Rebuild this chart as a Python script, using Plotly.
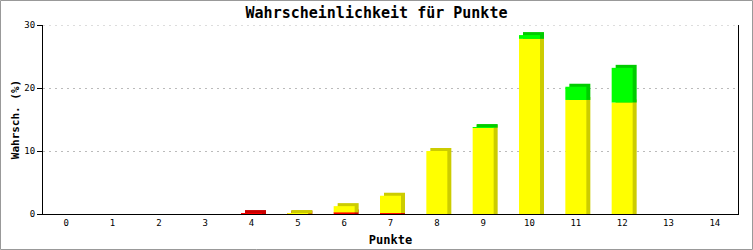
import plotly.graph_objects as go

categories = list(range(15))
red_vals = [0, 0, 0, 0, 0.15, 0.05, 0.25, 0.15, 0, 0, 0, 0, 0, 0, 0]
yellow_vals = [0, 0, 0, 0, 0, 0.1, 1.0, 2.75, 10.0, 13.7, 27.8, 18.1, 17.7, 0, 0]
green_vals = [0, 0, 0, 0, 0, 0, 0, 0, 0, 0.1, 0.6, 2.1, 5.5, 0, 0]
y_ticks = [0, 10, 20, 30]

W, H = 753, 250
L, R, T, B = 43, 15, 25, 36
PW, PH = W - L - R, H - T - B

BAR_W = 0.453
DEPTH_X = 4 / (PW / 15)      # category units
DEPTH_Y = 3 / (PH / 30)      # value units

series = [
    ("red", red_vals, "#ff0000", "#cc0000"),
    ("yellow", yellow_vals, "#ffff00", "#cccc00"),
    ("green", green_vals, "#00ff00", "#00cc00"),
]

fig = go.Figure()
bases = [0.0] * len(categories)
stack = []
for name, vals, front, side in series:
    stack.append((name, vals, list(bases), front, side))
    bases = [b + v for b, v in zip(bases, vals)]

# depth (3D) faces first
for name, vals, base, front, side in stack:
    fig.add_trace(go.Bar(
        x=categories, y=[(v + DEPTH_Y) if v > 0 else 0 for v in vals], base=base,
        width=BAR_W, offset=-BAR_W / 2 + DEPTH_X,
        marker=dict(color=side, line=dict(width=0)), showlegend=False, hoverinfo="skip"))
# front faces
for name, vals, base, front, side in stack:
    fig.add_trace(go.Bar(
        x=categories, y=vals, base=base, name=name,
        width=BAR_W, offset=-BAR_W / 2,
        marker=dict(color=front, line=dict(width=0)), showlegend=False))

FONT = "DejaVu Sans Mono"
GRID = "#bbbbbb"
fig.update_layout(
    width=W, height=H, barmode="overlay",
    margin=dict(l=L, r=R, t=T, b=B, autoexpand=False),
    paper_bgcolor="white", plot_bgcolor="white",
    title=dict(text="<b>Wahrscheinlichkeit für Punkte</b>", x=0.5, xanchor="center",
               y=1 - 13 / H, yanchor="middle",
               font=dict(family=FONT, size=15, color="black")),
    font=dict(family=FONT, color="black"),
    xaxis=dict(range=[-0.5, 14.5], tickmode="array", tickvals=categories,
               ticktext=[str(c) for c in categories], ticks="", showgrid=False,
               showline=True, linecolor="black", linewidth=1, mirror=False,
               tickfont=dict(size=9, family=FONT), zeroline=False,
               title=dict(text="<b>Punkte</b>", font=dict(size=12, family=FONT), standoff=8)),
    yaxis=dict(range=[0, 30], tickmode="array", tickvals=y_ticks,
               ticktext=[str(t) for t in y_ticks],
               ticks="outside", ticklen=5, tickcolor="black", tickwidth=1,
               ticklabelstandoff=0,
               showline=True, linecolor="black", linewidth=1, mirror=True,
               showgrid=True, gridcolor=GRID, griddash="2px,4px", gridwidth=1,
               zeroline=False, tickfont=dict(size=9, family=FONT),
               title=dict(text="<b>Wahrsch. (%)</b>", font=dict(size=11, family=FONT), standoff=2)),
    shapes=[
        dict(type="rect", xref="paper", yref="paper",
             x0=-L / PW + 0.5 / PW, x1=(W - L - 0.5) / PW,
             y0=-B / PH + 0.5 / PH, y1=(H - B - 0.5) / PH,
             line=dict(color="#999999", width=1), layer="below"),
        dict(type="line", xref="paper", yref="y", x0=0, x1=1,
             y0=y_ticks[-1], y1=y_ticks[-1],
             line=dict(color=GRID, width=1, dash="2px,4px"), layer="below"),
    ],
)

fig.write_html("out.html")
